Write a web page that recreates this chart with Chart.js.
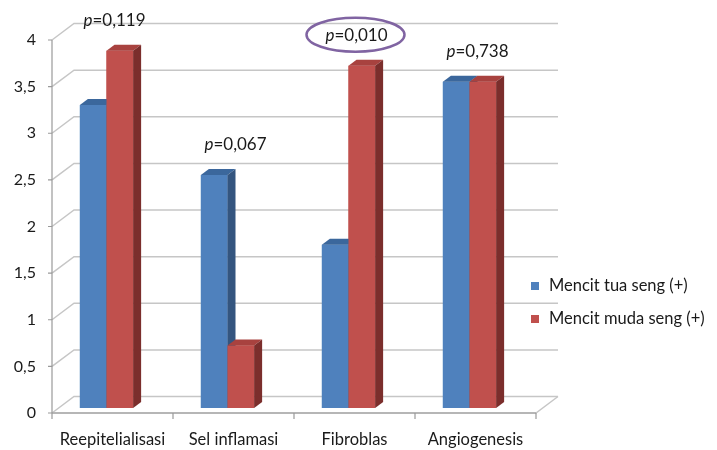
<!DOCTYPE html>
<html>
<head>
<meta charset="utf-8">
<title>Mencit seng</title>
<script src="https://cdn.jsdelivr.net/npm/chart.js"></script>
<style>
  body { margin: 0; background: #fff; }
  canvas { display: block; }
</style>
</head>
<body>
<canvas id="chart" width="717" height="450"></canvas>
<script>
var categories = ['Reepitelialisasi', 'Sel inflamasi', 'Fibroblas', 'Angiogenesis'];
var tuaValues = [3.25, 2.5, 1.75, 3.5];
var mudaValues = [3.83, 0.67, 3.67, 3.5];
var pValues = ['0,119', '0,067', '0,010', '0,738'];
var circledIndex = 2;
var seriesNames = ['Mencit tua seng (+)', 'Mencit muda seng (+)'];

var FONT = 'Lato, "Open Sans", sans-serif';
var depth = { dx: 8, dy: 6 };        // top / side face of each bar
var front = { dx: 6, dy: 5 };        // front axis plane, relative to bars
var back = { dx: 28, dy: -11.5 };    // back wall, relative to bars

function poly(ctx, pts, fill) {
  ctx.beginPath();
  ctx.moveTo(pts[0][0], pts[0][1]);
  for (var i = 1; i < pts.length; i++) ctx.lineTo(pts[i][0], pts[i][1]);
  ctx.closePath();
  ctx.fillStyle = fill;
  ctx.fill();
}

var frame3d = {
  id: 'frame3d',
  beforeDatasetsDraw: function(chart) {
    var ctx = chart.ctx, a = chart.chartArea, ys = chart.scales.y;
    ctx.save();
    ctx.lineWidth = 1.5;
    ctx.strokeStyle = '#c6c6c6';
    ys.ticks.forEach(function(t) {
      var py = ys.getPixelForValue(t.value);
      ctx.beginPath();
      ctx.moveTo(a.left + front.dx, py + front.dy);
      ctx.lineTo(a.left + back.dx, py + back.dy);
      ctx.lineTo(a.right + back.dx, py + back.dy);
      ctx.stroke();
    });
    var p0 = ys.getPixelForValue(0);
    ctx.beginPath();
    ctx.moveTo(a.left + front.dx, p0 + front.dy);
    ctx.lineTo(a.right + front.dx, p0 + front.dy);
    ctx.lineTo(a.right + back.dx, p0 + back.dy);
    ctx.stroke();

    // front axes
    ctx.strokeStyle = '#9a9a9a';
    ctx.lineWidth = 1.2;
    var fx = a.left + front.dx;
    ctx.beginPath();
    ctx.moveTo(fx, ys.getPixelForValue(4) + front.dy);
    ctx.lineTo(fx, p0 + front.dy);
    ctx.lineTo(a.right + front.dx, p0 + front.dy);
    ys.ticks.forEach(function(t) {
      var py = ys.getPixelForValue(t.value) + front.dy;
      ctx.moveTo(fx - 4, py);
      ctx.lineTo(fx, py);
    });
    var step = (a.right - a.left) / categories.length;
    for (var i = 0; i <= categories.length; i++) {
      var tx = a.left + front.dx + i * step;
      ctx.moveTo(tx, p0 + front.dy);
      ctx.lineTo(tx, p0 + front.dy + 6);
    }
    ctx.stroke();
    ctx.restore();
  },
  // redraw every bar group left to right, series in order, with its 3D faces
  afterDatasetsDraw: function(chart) {
    var ctx = chart.ctx;
    var metas = chart.data.datasets.map(function(d, i) { return chart.getDatasetMeta(i); });
    ctx.save();
    categories.forEach(function(c, j) {
      metas.forEach(function(meta, i) {
        var ds = chart.data.datasets[i];
        var bar = meta.data[j];
        var x0 = bar.x - bar.width / 2, x1 = bar.x + bar.width / 2;
        var yt = bar.y, yb = bar.base;
        poly(ctx, [[x0, yt], [x1, yt], [x1, yb], [x0, yb]], ds.backgroundColor);
        poly(ctx, [[x0, yt], [x1, yt], [x1 + depth.dx, yt - depth.dy], [x0 + depth.dx, yt - depth.dy]], ds.topColor);
        poly(ctx, [[x1, yt], [x1 + depth.dx, yt - depth.dy], [x1 + depth.dx, yb - depth.dy], [x1, yb]], ds.sideColor);
      });
    });
    ctx.restore();
  },
  afterDraw: function(chart) {
    var ctx = chart.ctx, xs = chart.scales.x, ys = chart.scales.y;
    ctx.save();
    ctx.textBaseline = 'middle';
    // p values above each group
    pValues.forEach(function(pv, i) {
      var cx = xs.getPixelForValue(i) + 8;
      var cy = ys.getPixelForValue(Math.max(tuaValues[i], mudaValues[i])) - 30;
      ctx.font = 'italic 17px ' + FONT;
      var w1 = ctx.measureText('p').width;
      ctx.font = '17px ' + FONT;
      var rest = '=' + pv;
      var w2 = ctx.measureText(rest).width;
      var sx = cx - (w1 + w2) / 2;
      ctx.fillStyle = '#1a1a1a';
      ctx.textAlign = 'left';
      ctx.font = 'italic 17px ' + FONT;
      ctx.fillText('p', sx, cy);
      ctx.font = '17px ' + FONT;
      ctx.fillText(rest, sx + w1, cy);
      if (i === circledIndex) {
        ctx.beginPath();
        ctx.ellipse(cx - 1, cy - 1, 49, 17, 0, 0, Math.PI * 2);
        ctx.strokeStyle = '#8064a2';
        ctx.lineWidth = 2.5;
        ctx.stroke();
      }
    });
    // legend
    ctx.font = '16.5px ' + FONT;
    chart.data.datasets.forEach(function(ds, i) {
      var ly = 286 + i * 33;
      ctx.fillStyle = ds.backgroundColor;
      ctx.fillRect(531, ly - 4, 8, 8);
      ctx.fillStyle = '#1a1a1a';
      ctx.fillText(ds.label, 549, ly);
    });
    ctx.restore();
  }
};

new Chart(document.getElementById('chart'), {
  type: 'bar',
  data: {
    labels: categories,
    datasets: [
      { label: seriesNames[0], data: tuaValues, backgroundColor: '#4f81bd',
        topColor: '#3b679c', sideColor: '#34557f' },
      { label: seriesNames[1], data: mudaValues, backgroundColor: '#c0504d',
        topColor: '#a8423f', sideColor: '#7b2e2c' }
    ]
  },
  options: {
    responsive: false,
    animation: false,
    layout: { padding: { left: 0, right: 187, top: 35, bottom: 0 } },
    plugins: { legend: { display: false }, tooltip: { enabled: false } },
    datasets: { bar: { barPercentage: 1, categoryPercentage: 0.44 } },
    scales: {
      x: {
        grid: { display: false, drawTicks: false },
        border: { display: false },
        ticks: { labelOffset: 6, padding: 22, color: '#1a1a1a', font: { family: FONT, size: 16.5 } },
        afterFit: function(s) { s.height = 42; }
      },
      y: {
        min: 0, max: 4,
        grid: { display: false, drawTicks: false },
        border: { display: false },
        ticks: {
          stepSize: 0.5, labelOffset: 5, padding: 10, color: '#1a1a1a',
          font: { family: FONT, size: 16 },
          callback: function(v) { return String(v).replace('.', ','); }
        },
        afterFit: function(s) { s.width = 46; }
      }
    }
  },
  plugins: [frame3d]
});
</script>
</body>
</html>
